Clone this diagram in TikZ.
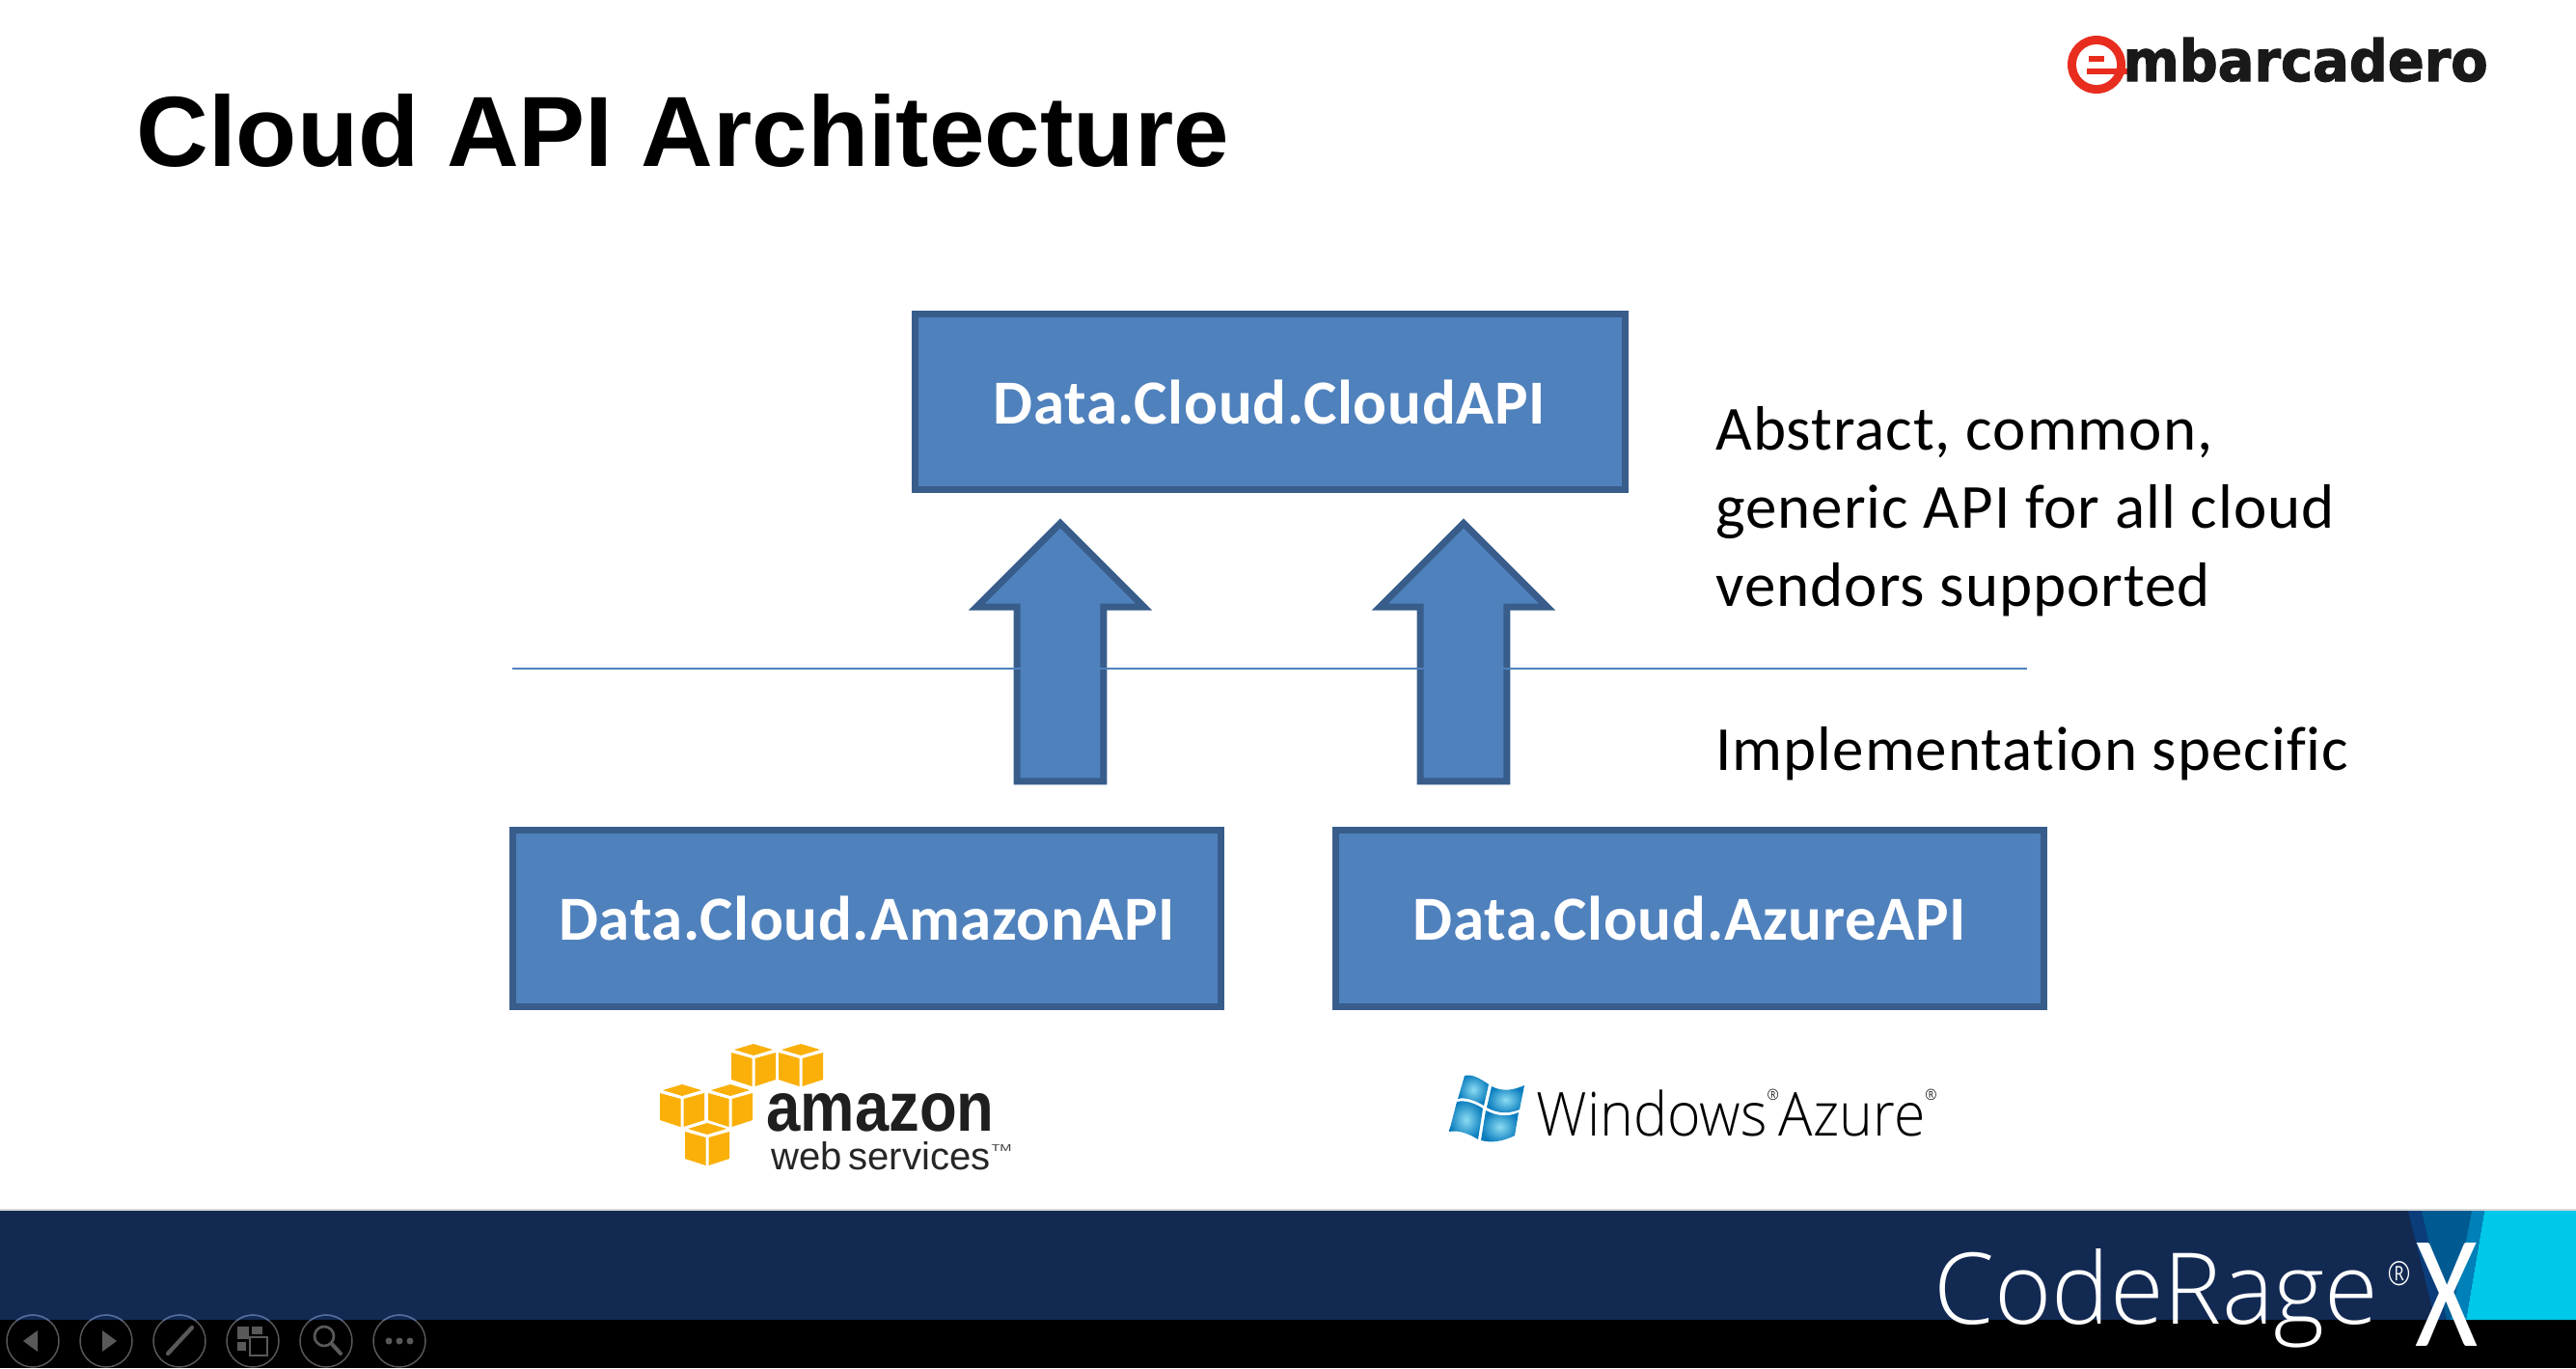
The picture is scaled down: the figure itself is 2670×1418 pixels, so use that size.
\documentclass[tikz,border=0pt]{standalone}
\usepackage{graphicx}
\usepackage{fontspec}
\setmainfont[LetterSpace=1.5,Ligatures=CommonOff,BoldFeatures={LetterSpace=1}]{Carlito}
\newfontfamily\titlefont{Liberation Sans}
\newfontfamily\lightfont{Open Sans Light}
\newfontfamily\logofont[BoldFeatures={FakeBold=2}]{DejaVu Sans}
\usetikzlibrary{shapes.arrows}

\newlength\pxunit
\setlength\pxunit{0.75pt}

\definecolor{boxfill}{RGB}{79,129,189}
\definecolor{boxline}{RGB}{56,93,138}
\definecolor{navyband}{RGB}{18,41,82}
\definecolor{cyanband}{RGB}{0,200,232}
\definecolor{vdark}{RGB}{10,61,122}
\definecolor{vmid}{RGB}{0,90,146}
\definecolor{vlight}{RGB}{0,128,184}
\definecolor{awsgold}{RGB}{250,176,8}
\definecolor{ringgrey}{RGB}{89,89,89}
\definecolor{ringblue}{RGB}{80,110,160}
\definecolor{emred}{RGB}{232,45,31}
\definecolor{flagdeep}{RGB}{10,125,190}
\definecolor{flagpale}{RGB}{140,220,242}

\tikzset{every picture/.style={line width=0.75pt},
  apibox/.style={draw=boxline,fill=boxfill,line width=5.25pt,minimum width=#1,minimum height=137pt,inner sep=0pt,outer sep=0pt,text=white,font=\fontsize{48.75}{58}\selectfont\bfseries},
  liftarrow/.style={shape=single arrow,draw=boxline,fill=boxfill,line width=5.25pt,shape border rotate=90,inner xsep=31pt,inner ysep=0pt,minimum height=200.6pt,single arrow head extend=31.5pt,outer sep=0pt},
  sidetext/.style={anchor=base west,inner sep=0pt,font=\fontsize{48.75}{60.75}\selectfont,align=left},
  logotext/.style={anchor=base west,inner sep=0pt},
  toolring/.style={draw=ringgrey,line width=1.1pt},
  toolicon/.style={fill=ringgrey,draw=none},
  flagpane/.style={inner color=flagpale,outer color=flagdeep}
}

\begin{document}
\begin{tikzpicture}[x=0.75pt,y=0.75pt,yscale=-1,xscale=1]
\useasboundingbox (0,0) rectangle (2670,1418);

%Shape: Footer bands
\fill [white] (0,0) rectangle (2670,1418);
\fill [navyband] (0,1255) rectangle (2670,1368);
\fill [black] (0,1368) rectangle (2670,1418);
\fill [cyanband] (2575,1255) -- (2670,1255) -- (2670,1368) -- (2556,1368) -- cycle;
\fill [vdark] (2496,1255) -- (2510,1255) -- (2536,1368) -- (2524,1368) -- cycle;
\fill [vmid] (2510,1255) -- (2562,1255) -- (2540,1368) -- (2536,1368) -- cycle;
\fill [vlight] (2562,1255) -- (2575,1255) -- (2556,1368) -- (2540,1368) -- cycle;
\fill [black!15] (0,1253) rectangle (2670,1255);

% Text Node
\node (title) [anchor=base west,inner sep=0pt,font=\titlefont\bfseries\fontsize{77.6}{90}\selectfont] at (141,172) {Cloud API Architecture};

%Shape: Rectangle
\node (cloudapi) [apibox=552pt] at (1316,416.5) {Data.Cloud.CloudAPI};
\node (amazonapi) [apibox=550.5pt] at (898.5,952) {Data.Cloud.AmazonAPI};
\node (azureapi) [apibox=550.5pt] at (1751.5,952) {Data.Cloud.AzureAPI};

%Shape: Up Arrow
\node (liftamazon) [liftarrow] at (1099,698.5) {};
\node (liftazure) [liftarrow] at (1517,698.5) {};

%Straight Lines
\coordinate (splitleft) at (531,693);
\coordinate (splitright) at (2101,693);
\draw [boxfill,line width=1.2pt] (splitleft) -- (splitright);

% Text Node
\node (abstract) [sidetext] at (1778,628) {Abstract, common,\\generic API for all cloud\\vendors supported};
\node (specific) [sidetext] at (1778,798) {Implementation specific};

%Shape: Embarcadero mark
\fill [emred] (2173,67) circle (30);
\fill [white] (2173,67) circle (21);
\fill [emred] (2163,71) rectangle (2205,77);
\fill [emred] (2165,58) -- (2181,58) -- (2181,64) -- (2165,64) -- cycle;
\node (embarcadero) [logotext,text=black!90] at (2200,84) {\logofont\bfseries\resizebox{378\pxunit}{45\pxunit}{mbarcadero}};

%Shape: AWS cubes
\foreach \cx/\cy in {781/1082,830/1082,707/1124,757/1124,733/1164} {
  \fill [awsgold] (\cx,\cy) -- (\cx+20,\cy+6) -- (\cx,\cy+12) -- (\cx-20,\cy+6) -- cycle;
  \fill [awsgold] (\cx-23,\cy+9) -- (\cx-1.5,\cy+15) -- (\cx-1.5,\cy+44) -- (\cx-23,\cy+37) -- cycle;
  \fill [awsgold] (\cx+23,\cy+9) -- (\cx+1.5,\cy+15) -- (\cx+1.5,\cy+44) -- (\cx+23,\cy+37) -- cycle;
}
\node (amazonword) [logotext,text=black!88] at (794,1172) {\titlefont\bfseries\resizebox{236\pxunit}{39\pxunit}{amazon}};
\node (webword) [logotext,text=black!85] at (799,1212) {\titlefont\resizebox{227\pxunit}{29\pxunit}{web\,services}};
\node (tmmark) [logotext,text=black!75] at (1027,1193) {\titlefont\resizebox{21\pxunit}{7\pxunit}{TM}};

%Shape: Azure flag
\shade [flagpane] (1518,1115) .. controls (1525,1113) and (1533,1117) .. (1543,1124) -- (1538,1146) .. controls (1528,1140) and (1518,1137) .. (1511,1139) -- cycle;
\shade [flagpane] (1546,1126) .. controls (1558,1132) and (1568,1130) .. (1580,1125) -- (1575,1150) .. controls (1563,1155) and (1552,1154) .. (1541,1148) -- cycle;
\shade [flagpane] (1510,1142) .. controls (1518,1140) and (1528,1143) .. (1537,1149) -- (1532,1181) .. controls (1522,1175) and (1512,1171) .. (1502,1173) -- cycle;
\shade [flagpane] (1540,1151) .. controls (1552,1157) and (1563,1158) .. (1574,1153) -- (1570,1177) .. controls (1558,1183) and (1546,1185) .. (1535,1182) -- cycle;
\node (azureword) [logotext,text=black] at (1592,1177) {\lightfont\resizebox{415\pxunit}{48\pxunit}{Windows\raisebox{1.1ex}{\fontsize{2.5}{3}\selectfont ®}Azure\raisebox{1.1ex}{\fontsize{2.5}{3}\selectfont ®}}};

% Text Node
\node (coderage) [logotext,text=white] at (2004,1372) {\lightfont\resizebox{461\pxunit}{78\pxunit}{CodeRage}};
\node (regmark) [logotext,text=white] at (2474,1332) {\lightfont\resizebox{24\pxunit}{25\pxunit}{®}};
\node (bigx) [logotext,text=white] at (2503,1395) {\resizebox{65\pxunit}{107\pxunit}{X}};

%Shape: Slide show buttons
\foreach \i in {0,...,5} {
  \draw [toolring] (34+76*\i,1390) circle (27);
  \begin{scope}
    \clip (0,1355) rectangle (480,1368);
    \draw [ringblue,line width=1.1pt] (34+76*\i,1390) circle (27);
  \end{scope}
}
\fill [toolicon] (39,1379) -- (39,1401) -- (24,1390) -- cycle;
\fill [toolicon] (106,1379) -- (106,1401) -- (121,1390) -- cycle;
\draw [ringgrey,line width=3.2pt,line cap=round] (174,1403) -- (199,1376);
\fill [toolicon] (246,1375) rectangle (258,1388);
\fill [toolicon] (261,1375) rectangle (272,1383);
\fill [toolicon] (246,1391) rectangle (255,1400);
\draw [ringgrey,line width=1.8pt] (259,1386) rectangle (277,1405);
\draw [ringgrey,line width=2pt] (336,1385) circle (10);
\draw [ringgrey,line width=3pt,line cap=round] (344,1393) -- (353,1403);
\foreach \i in {-1,0,1} {
  \fill [toolicon] (414+11*\i,1390) circle (3.5);
}
\end{tikzpicture}
\end{document}
